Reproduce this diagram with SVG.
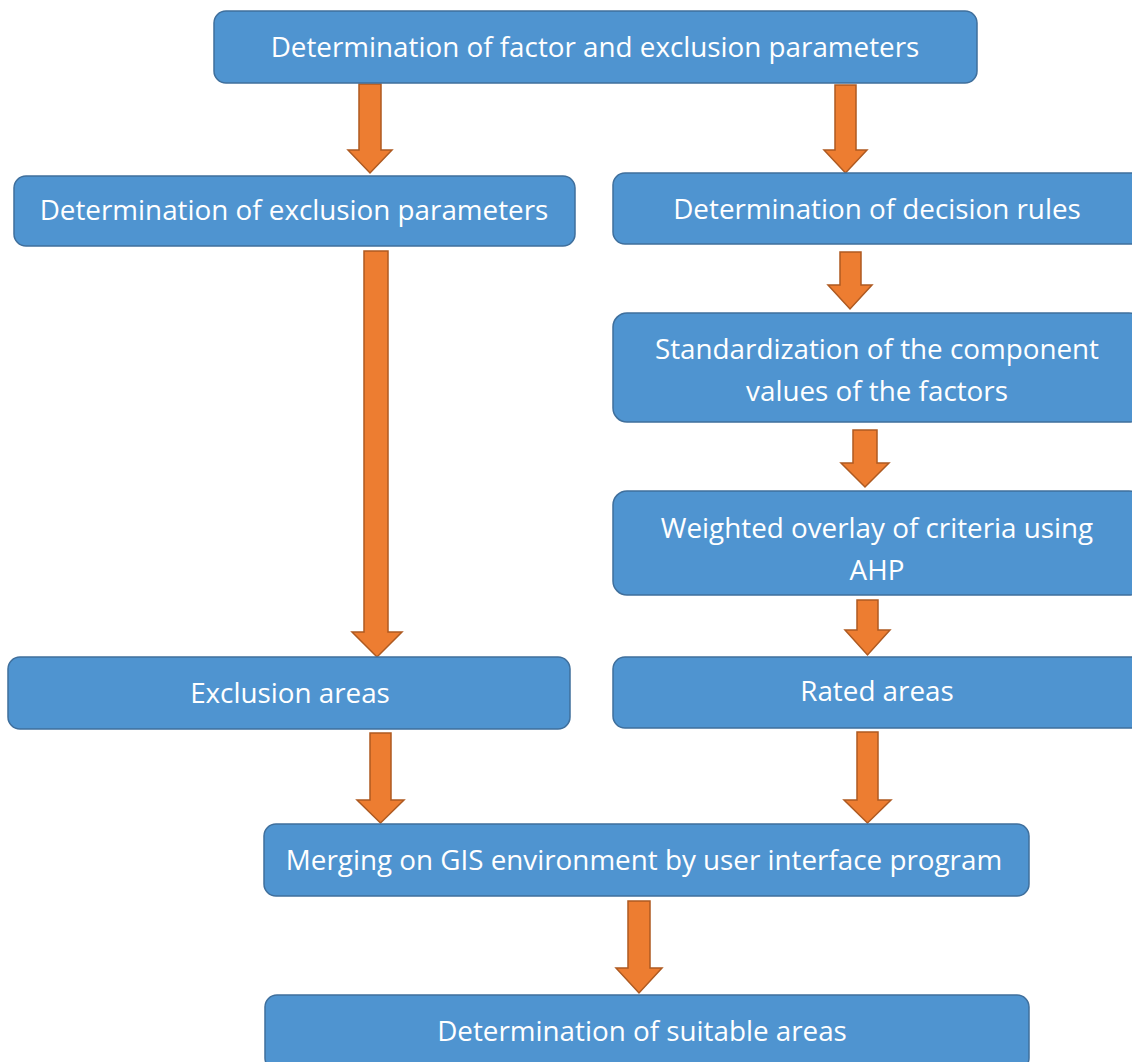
<svg xmlns="http://www.w3.org/2000/svg" width="1132" height="1062" viewBox="0 0 1132 1062">
<defs>
<style>
.box{fill:#4f94d0;stroke:#3f6f9c;stroke-width:1.5}
.arr{fill:#ed7d31;stroke:#ae5a21;stroke-width:1.5}
.t{font-family:"Open Sans","Liberation Sans",sans-serif;font-size:27.8px;fill:#ffffff;text-anchor:middle}
</style>
</defs>
<rect width="1132" height="1062" fill="#ffffff"/>
<g id="connectors">
<path class="arr" d="M359,84 H381 V150 H392 L370,173 L348,150 H359 Z"/>
<path class="arr" d="M835,85 H856 V150 H867 L845.5,173 L824,150 H835 Z"/>
<path class="arr" d="M364,251 H388 V632 H402 L377,657 L352,632 H364 Z"/>
<path class="arr" d="M840,252 H861 V285 H872 L850,309 L828,285 H840 Z"/>
<path class="arr" d="M853,430 H877 V463 H889 L865,487 L841,463 H853 Z"/>
<path class="arr" d="M857,600 H878 V630 H890 L867.5,655 L845,630 H857 Z"/>
<path class="arr" d="M370,733 H391 V800 H404 L380.5,823 L357,800 H370 Z"/>
<path class="arr" d="M857,732 H878 V800 H891 L867.5,823 L844,800 H857 Z"/>
<path class="arr" d="M628,901 H650 V968 H662 L639,993 L616,968 H628 Z"/>
</g>
<g id="n1"><rect class="box" x="214" y="11" width="763" height="72" rx="12"/><text class="t" x="595" y="57">Determination of factor and exclusion parameters</text></g>
<g id="n2"><rect class="box" x="14" y="176" width="561" height="70" rx="12"/><text class="t" x="294" y="220">Determination of exclusion parameters</text></g>
<g id="n3"><rect class="box" x="613" y="173" width="530" height="71" rx="12"/><text class="t" x="877" y="219">Determination of decision rules</text></g>
<g id="n4"><rect class="box" x="613" y="313" width="530" height="109" rx="14"/><text class="t" x="877" y="359">Standardization of the component</text><text class="t" x="877" y="401">values of the factors</text></g>
<g id="n5"><rect class="box" x="613" y="491" width="530" height="104" rx="14"/><text class="t" x="877" y="538">Weighted overlay of criteria using</text><text class="t" x="877" y="580">AHP</text></g>
<g id="n6"><rect class="box" x="8" y="657" width="562" height="72" rx="12"/><text class="t" x="290" y="703">Exclusion areas</text></g>
<g id="n7"><rect class="box" x="613" y="657" width="530" height="71" rx="12"/><text class="t" x="877" y="701">Rated areas</text></g>
<g id="n8"><rect class="box" x="264" y="824" width="765" height="72" rx="12"/><text class="t" x="644" y="870">Merging on GIS environment by user interface program</text></g>
<g id="n9"><rect class="box" x="265" y="995" width="764" height="75" rx="12"/><text class="t" x="642" y="1041">Determination of suitable areas</text></g>
</svg>
